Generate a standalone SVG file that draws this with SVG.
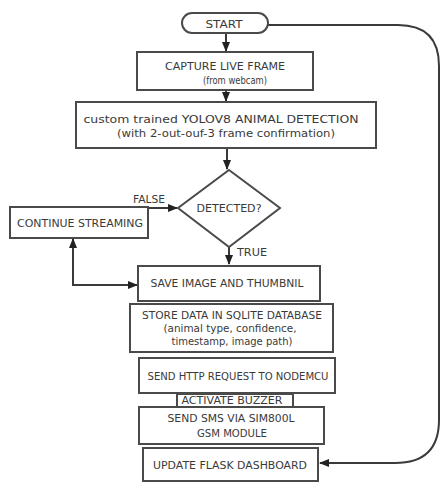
<svg xmlns="http://www.w3.org/2000/svg" width="441" height="483" viewBox="0 0 441 483">
<style>
.box{fill:#fff;stroke:#4a4a4a;stroke-width:2}
.t{font-family:"DejaVu Sans",sans-serif;font-size:10px;fill:#3a3a3a;text-anchor:middle;dominant-baseline:central}
.c{fill:none;stroke:#3a3a3a;stroke-width:2}
</style>
<defs>
<marker id="ah" markerUnits="userSpaceOnUse" markerWidth="10" markerHeight="10" refX="9" refY="5" orient="auto-start-reverse" viewBox="0 0 10 10">
<path d="M0,1 L10,5 L0,9 Z" fill="#222"/>
</marker>
</defs>
<rect width="441" height="483" fill="#fff"/>
<g id="connectors">
<path class="c" d="M226,33 V51" marker-end="url(#ah)"/>
<path class="c" d="M226,90 V101" marker-end="url(#ah)"/>
<path class="c" d="M227,148 V169" marker-end="url(#ah)"/>
<path class="c" d="M145,208 H177" marker-end="url(#ah)"/>
<path class="c" d="M229,247 V264" marker-end="url(#ah)"/>
<path class="c" d="M73,239 V285 H137" marker-start="url(#ah)" marker-end="url(#ah)"/>
<path class="c" d="M268,25 H398 Q439,25 439,66 V420 Q439,463 395,463 H320" marker-end="url(#ah)"/>
<text class="t" x="149" y="199" textLength="32" lengthAdjust="spacingAndGlyphs">FALSE</text>
<text class="t" x="252" y="252" textLength="30" lengthAdjust="spacingAndGlyphs">TRUE</text>
</g>
<g id="start">
<rect class="box" x="182" y="13" width="86" height="20" rx="10"/>
<text class="t" x="224" y="24" textLength="37" lengthAdjust="spacingAndGlyphs">START</text>
</g>
<g id="capture">
<rect class="box" x="137" y="52" width="176" height="38"/>
<text class="t" x="225" y="66" textLength="120" lengthAdjust="spacingAndGlyphs">CAPTURE LIVE FRAME</text>
<text class="t" x="235" y="80" textLength="64" lengthAdjust="spacingAndGlyphs">(from webcam)</text>
</g>
<g id="yolo">
<rect class="box" x="76" y="102" width="300" height="46"/>
<text class="t" x="221" y="119" textLength="275" lengthAdjust="spacingAndGlyphs">custom trained YOLOV8 ANIMAL DETECTION</text>
<text class="t" x="226" y="133" textLength="218" lengthAdjust="spacingAndGlyphs">(with 2-out-ouf-3 frame confirmation)</text>
</g>
<g id="detected">
<polygon class="box" points="229,170 280,208 229,247 178,208"/>
<text class="t" x="229" y="208" textLength="65" lengthAdjust="spacingAndGlyphs">DETECTED?</text>
</g>
<g id="continue">
<rect class="box" x="10" y="207" width="138" height="31"/>
<text class="t" x="80" y="223" textLength="126" lengthAdjust="spacingAndGlyphs">CONTINUE STREAMING</text>
</g>
<g id="save">
<rect class="box" x="138" y="266" width="182" height="35"/>
<text class="t" x="227" y="283" textLength="153" lengthAdjust="spacingAndGlyphs">SAVE IMAGE AND THUMBNIL</text>
</g>
<g id="store">
<rect class="box" x="130" y="304" width="203" height="48"/>
<text class="t" x="232" y="315" textLength="180" lengthAdjust="spacingAndGlyphs">STORE DATA IN SQLITE DATABASE</text>
<text class="t" x="230" y="328" textLength="133" lengthAdjust="spacingAndGlyphs">(animal type, confidence,</text>
<text class="t" x="232" y="341" textLength="121" lengthAdjust="spacingAndGlyphs">timestamp, image path)</text>
</g>
<g id="http">
<rect class="box" x="139" y="358" width="196" height="35"/>
<text class="t" x="238" y="376" textLength="181" lengthAdjust="spacingAndGlyphs">SEND HTTP REQUEST TO NODEMCU</text>
</g>
<g id="buzzer">
<rect class="box" x="177" y="394" width="116" height="13"/>
<text class="t" x="232" y="400" textLength="101" lengthAdjust="spacingAndGlyphs">ACTIVATE BUZZER</text>
</g>
<g id="sms">
<rect class="box" x="139" y="407" width="185" height="37"/>
<text class="t" x="231" y="418" textLength="127" lengthAdjust="spacingAndGlyphs">SEND SMS VIA SIM800L</text>
<text class="t" x="232" y="433" textLength="70" lengthAdjust="spacingAndGlyphs">GSM MODULE</text>
</g>
<g id="dashboard">
<rect class="box" x="143" y="448" width="175" height="33"/>
<text class="t" x="230" y="465" textLength="154" lengthAdjust="spacingAndGlyphs">UPDATE FLASK DASHBOARD</text>
</g>
</svg>
